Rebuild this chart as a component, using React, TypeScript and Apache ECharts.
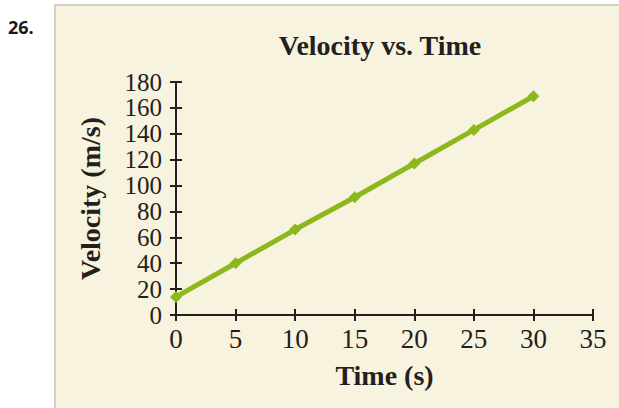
import React, { useEffect, useRef } from "react";
import * as echarts from "echarts";

const times = [0, 5, 10, 15, 20, 25, 30];
const velocities = [14, 40, 66, 91, 117, 143, 169];
const xRange = { min: 0, max: 35, interval: 5 };
const yRange = { min: 0, max: 180, interval: 20 };
const titleText = "Velocity vs. Time";
const xName = "Time (s)";
const yName = "Velocity (m/s)";
const problemNo = "26.";

const INK = "#231f20";
const GREEN = "#8cb81c";
const SERIF = "'Liberation Serif', 'Times New Roman', serif";

export default function App() {
  const ref = useRef<HTMLDivElement>(null);
  useEffect(() => {
    if (!ref.current) return;
    const chart = echarts.init(ref.current, null, { renderer: "svg" });
    const baseX = {
      type: "value",
      min: xRange.min,
      max: xRange.max,
      interval: xRange.interval,
      splitLine: { show: false },
    };
    const baseY = {
      type: "value",
      min: yRange.min,
      max: yRange.max,
      interval: yRange.interval,
      splitLine: { show: false },
    };
    chart.setOption({
      animation: false,
      backgroundColor: "#ffffff",
      grid: { left: 176, right: 26, top: 82, bottom: 93, containLabel: false },
      graphic: [
        {
          type: "rect",
          shape: { x: 55, y: 5, width: 580, height: 420 },
          style: { fill: "#f7f3df", stroke: "#d6d2bf", lineWidth: 2 },
          z: -10,
        },
        {
          type: "text",
          x: 8,
          y: 27,
          style: {
            text: problemNo,
            fill: "#1a1a1a",
            font: "bold 18px 'Open Sans', 'Noto Sans', sans-serif",
            textVerticalAlign: "middle",
          },
        },
        {
          type: "text",
          x: 380,
          y: 45,
          style: {
            text: titleText,
            fill: INK,
            font: `bold 28px ${SERIF}`,
            textAlign: "center",
            textVerticalAlign: "middle",
          },
        },
      ],
      xAxis: [
        {
          ...baseX,
          name: xName,
          nameLocation: "middle",
          nameGap: 46,
          nameTextStyle: { color: INK, fontFamily: SERIF, fontSize: 28, fontWeight: "bold" },
          axisLine: { show: true, onZero: false, lineStyle: { color: INK, width: 2 } },
          axisTick: { show: true, length: 6, lineStyle: { color: INK, width: 2 } },
          axisLabel: {
            color: INK,
            fontFamily: SERIF,
            fontSize: 27,
            margin: 10,
            showMinLabel: true,
            showMaxLabel: true,
          },
        },
        {
          ...baseX,
          position: "bottom",
          axisLine: { show: false },
          axisTick: { show: true, inside: true, length: 6, lineStyle: { color: INK, width: 2 } },
          axisLabel: { show: false },
        },
      ],
      yAxis: [
        {
          ...baseY,
          name: yName,
          nameLocation: "middle",
          nameGap: 72,
          nameTextStyle: { color: INK, fontFamily: SERIF, fontSize: 28, fontWeight: "bold" },
          axisLine: { show: true, onZero: false, lineStyle: { color: INK, width: 2 } },
          axisTick: { show: true, length: 6, lineStyle: { color: INK, width: 2 } },
          axisLabel: {
            color: INK,
            fontFamily: SERIF,
            fontSize: 25,
            lineHeight: 25,
            margin: 14,
            showMinLabel: true,
            showMaxLabel: true,
            hideOverlap: false,
            interval: 0,
          },
        },
        {
          ...baseY,
          position: "left",
          axisLine: { show: false },
          axisTick: { show: true, inside: true, length: 6, lineStyle: { color: INK, width: 2 } },
          axisLabel: { show: false },
        },
      ],
      series: [
        {
          type: "line",
          xAxisIndex: 0,
          yAxisIndex: 0,
          data: times.map((t, i) => [t, velocities[i]]),
          lineStyle: { color: GREEN, width: 5 },
          itemStyle: { color: GREEN },
          symbol: "diamond",
          symbolSize: 12,
          showSymbol: true,
        },
      ],
    });
    return () => chart.dispose();
  }, []);
  return (
    <div
      ref={ref}
      style={{ position: "fixed", left: 0, top: 0, width: 619, height: 408 }}
    />
  );
}
